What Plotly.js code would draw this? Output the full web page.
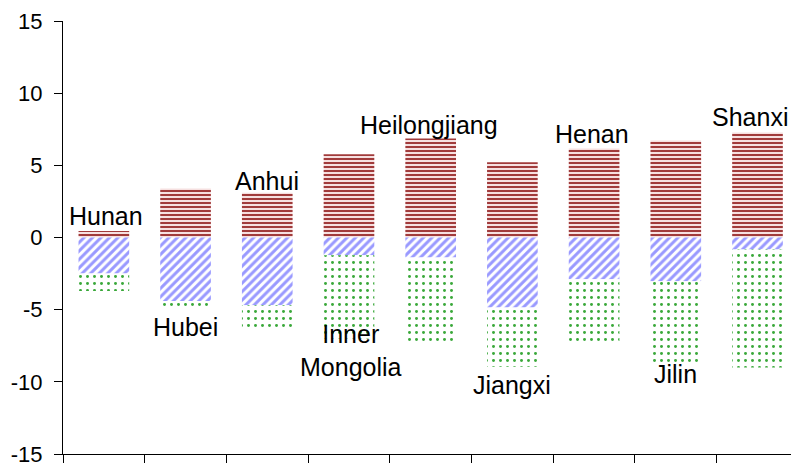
<!DOCTYPE html>
<html>
<head>
<meta charset="utf-8">
<script src="https://cdn.plot.ly/plotly-3.0.1.min.js"></script>
<style>html,body{margin:0;padding:0;background:#fff;}#chart{width:791px;height:467px;}</style>
</head>
<body>
<div id="chart"></div>
<script>
// Data
var categories = ['Hunan','Hubei','Anhui','Inner Mongolia','Heilongjiang','Jiangxi','Henan','Jilin','Shanxi'];
var labelText = ['Hunan','Hubei','Anhui','Inner<br>Mongolia','Heilongjiang','Jiangxi','Henan','Jilin','Shanxi'];
var redValues = [0.45, 3.4, 3.1, 5.77, 6.86, 5.21, 6.16, 6.72, 7.27];
var blueValues = [-2.5, -4.4, -4.7, -1.23, -1.38, -4.85, -2.89, -3.03, -0.83];
var greenValues = [-1.2, -0.45, -1.7, -5.77, -5.96, -4.11, -4.45, -5.86, -8.17];
var yTickVals = [-15, -10, -5, 0, 5, 10, 15];
var yTickLabels = ['-15', '-10', '-5', '0', '5', '10', '15'];

// label placement (layout)
var labelY = [1.51, -6.21, 3.9, -7.84, 7.81, -10.2, 7.17, -9.47, 8.33];
var labelXShift = [2, 0, 0, 2, -2, 0, -2, 0, -8];

var FONT = 'Liberation Sans, Arial, sans-serif';

var traces = [
  {
    type: 'bar', x: categories, y: redValues, width: 0.62,
    marker: {color: '#f2d6d6', line: {width: 0},
      pattern: {shape: '-', fgcolor: '#8b1010', bgcolor: '#f6e0e0', size: 4, solidity: 0.4}},
    hoverinfo: 'skip'
  },
  {
    type: 'bar', x: categories, y: blueValues, width: 0.62,
    marker: {color: '#ffffff', line: {width: 0},
      pattern: {shape: '/', fgcolor: '#9999ff', bgcolor: '#ffffff', size: 6, solidity: 0.5}},
    hoverinfo: 'skip'
  },
  {
    type: 'bar', x: categories, y: greenValues, width: 0.62,
    marker: {color: '#ffffff', line: {width: 0},
      pattern: {shape: '.', fgcolor: '#3aa83a', bgcolor: '#ffffff', size: 7, solidity: 0.14}},
    hoverinfo: 'skip'
  }
];

var annotations = categories.map(function (c, i) {
  return {
    x: c, y: labelY[i], xref: 'x', yref: 'y', text: labelText[i],
    showarrow: false, xanchor: 'center', yanchor: 'middle', xshift: labelXShift[i],
    font: {family: FONT, size: 25, color: '#000'}
  };
});

var layout = {
  width: 791, height: 467,
  margin: {l: 63, r: 0, t: 21, b: 13, pad: 0},
  paper_bgcolor: '#ffffff', plot_bgcolor: '#ffffff',
  barmode: 'relative', showlegend: false,
  font: {family: FONT, size: 22, color: '#000'},
  xaxis: {
    type: 'category', range: [-0.5, 8.41],
    showticklabels: false, tickson: 'boundaries', ticks: 'outside', ticklen: 8,
    tickcolor: '#000', tickwidth: 1,
    showline: true, linecolor: '#000', linewidth: 1,
    showgrid: false, zeroline: false, fixedrange: true
  },
  yaxis: {
    range: [-15, 15], tickmode: 'array', tickvals: yTickVals, ticktext: yTickLabels,
    ticks: 'outside', ticklen: 8, tickcolor: '#000', tickwidth: 1,
    ticklabelstandoff: 7,
    tickfont: {family: FONT, size: 22, color: '#000'},
    showline: true, linecolor: '#000', linewidth: 1,
    showgrid: false, zeroline: false, fixedrange: true
  },
  annotations: annotations
};

Plotly.newPlot('chart', traces, layout, {staticPlot: true, displayModeBar: false});
</script>
</body>
</html>
